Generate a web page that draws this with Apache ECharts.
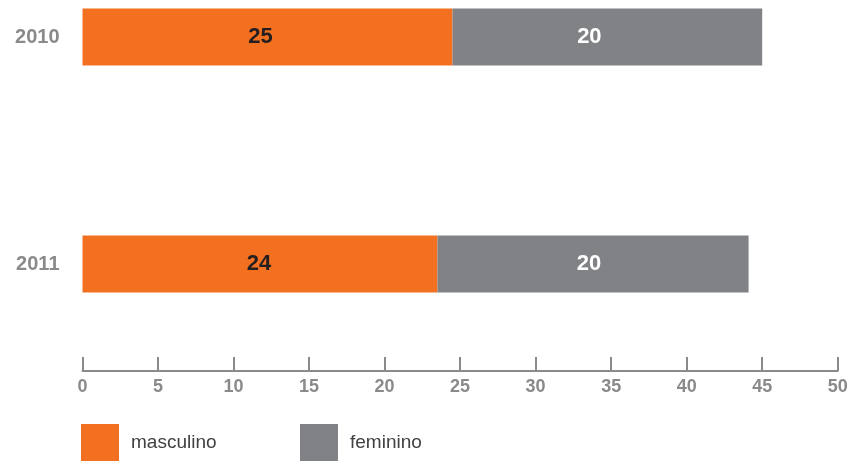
<!DOCTYPE html>
<html><head><meta charset="utf-8">
<script src="https://cdn.jsdelivr.net/npm/echarts@6/dist/echarts.min.js"></script>
<style>html,body{margin:0;padding:0;background:#fff}#c{width:852px;height:461px}</style>
</head><body><div id="c"></div>
<script>
var years = ['2010', '2011'];
var masculino = [24.5, 23.5];
var feminino = [20.5, 20.6];
var masculinoLabels = [25, 24];
var femininoLabels = [20, 20];
var xTicks = [0, 5, 10, 15, 20, 25, 30, 35, 40, 45, 50];

var ORANGE = '#f37021', GRAY = '#808285', AXIS = '#8a8a8c';
var FONT = '"Liberation Sans", Arial, sans-serif';
var mOff = [[-7, 0], [-1, 0]];
var fOff = [[-18, 0], [-4, 0]];

var chart = echarts.init(document.getElementById('c'));
chart.setOption({
  animation: false,
  grid: { left: 82.5, right: 14.3, top: 37, bottom: 197, containLabel: false },
  xAxis: {
    type: 'value', min: xTicks[0], max: xTicks[xTicks.length - 1], interval: 5,
    offset: 107,
    axisLine: { show: true, lineStyle: { color: AXIS, width: 2 } },
    axisTick: { show: true, inside: true, length: 14, lineStyle: { color: AXIS, width: 2 } },
    axisLabel: { color: AXIS, fontSize: 18, fontWeight: 'bold', fontFamily: FONT, margin: 7 },
    splitLine: { show: false }
  },
  yAxis: {
    type: 'category', data: years, inverse: true, boundaryGap: false,
    axisLine: { show: false }, axisTick: { show: false },
    axisLabel: { color: AXIS, fontSize: 20, fontWeight: 'bold', fontFamily: FONT, margin: 23 }
  },
  legend: [
    { data: ['masculino'], left: 81, top: 424, padding: 0, icon: 'rect', itemWidth: 38, itemHeight: 37,
      textStyle: { fontSize: 19, color: '#414042', fontFamily: FONT, padding: [0, 0, 0, 7] } },
    { data: ['feminino'], left: 300, top: 424, padding: 0, icon: 'rect', itemWidth: 38, itemHeight: 37,
      textStyle: { fontSize: 19, color: '#414042', fontFamily: FONT, padding: [0, 0, 0, 7] } }
  ],
  series: [
    { name: 'masculino', type: 'bar', stack: 't', barWidth: 57, clip: false,
      itemStyle: { color: ORANGE },
      data: masculino.map(function (v, i) {
        return { value: v, label: { offset: mOff[i], formatter: String(masculinoLabels[i]) } };
      }),
      label: { show: true, position: 'inside', color: '#231f20', fontSize: 22, fontWeight: 'bold', fontFamily: FONT } },
    { name: 'feminino', type: 'bar', stack: 't', barWidth: 57, clip: false,
      itemStyle: { color: GRAY },
      data: feminino.map(function (v, i) {
        return { value: v, label: { offset: fOff[i], formatter: String(femininoLabels[i]) } };
      }),
      label: { show: true, position: 'inside', color: '#ffffff', fontSize: 22, fontWeight: 'bold', fontFamily: FONT } }
  ]
});
</script></body></html>
